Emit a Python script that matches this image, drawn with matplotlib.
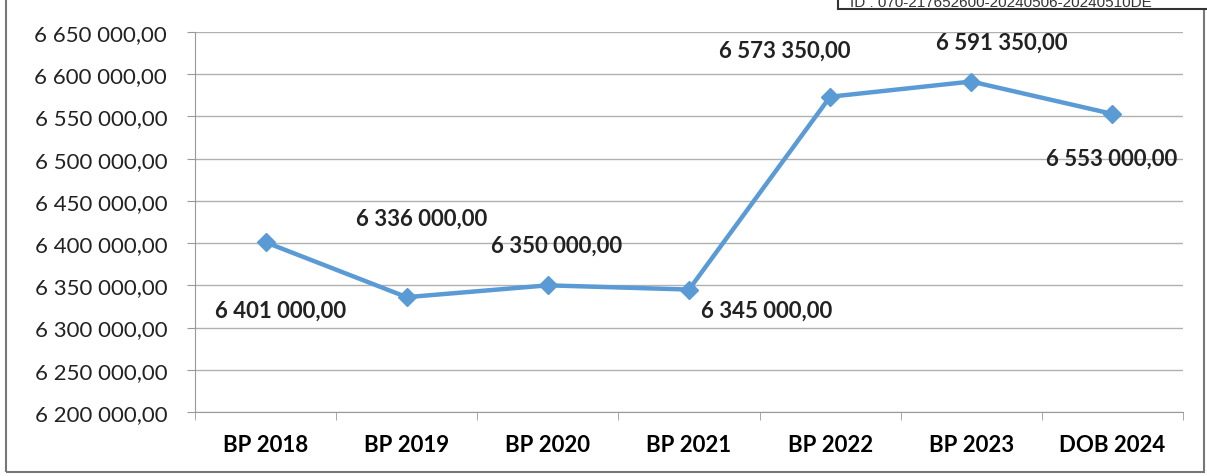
import matplotlib
matplotlib.use("Agg")
import matplotlib.pyplot as plt
from matplotlib.patches import Rectangle
from matplotlib.ticker import FuncFormatter, FixedLocator

categories = ["BP 2018", "BP 2019", "BP 2020", "BP 2021", "BP 2022", "BP 2023", "DOB 2024"]
values = [6401000, 6336000, 6350000, 6345000, 6573350, 6591350, 6553000]
label_offsets = [(15, -68), (15, 79), (9, 40), (78, -21), (-45, 47), (30, 39), (-1, -44)]  # pixels

def fmt(v, pos=None):
    s = f"{v:,.2f}"
    ip, dp = s.split(".")
    return ip.replace(",", " ") + "," + dp

plt.rcParams['font.family'] = ['Lato', 'DejaVu Sans']
fig = plt.figure(figsize=(12.07, 4.77), dpi=100)
ax = fig.add_axes([195/1207, 1-413/477, (1183-195)/1207, (413-33)/477])

x = list(range(len(categories)))
color = "#5B9BD5"
ax.plot(x, values, color=color, lw=3.2, marker="D", ms=9.5, mfc=color, mec=color, zorder=3)

for xi, v, (dx, dy) in zip(x, values, label_offsets):
    ax.annotate(fmt(v), (xi, v), xytext=(dx*0.72, dy*0.72), textcoords="offset points",
                ha="center", va="center", fontsize=16, fontweight="bold", color="#222222")

ax.set_xlim(-0.5, 6.5)
ax.set_ylim(6200000, 6650000)
ax.set_yticks(range(6200000, 6650001, 50000))
ax.yaxis.set_major_formatter(FuncFormatter(fmt))
ax.grid(axis="y", color="#b0b0b0", lw=1)
ax.set_axisbelow(True)
ax.set_xticks(x)
ax.set_xticklabels(categories, fontweight="bold", fontsize=16)
ax.xaxis.set_minor_locator(FixedLocator([i - 0.5 for i in range(8)]))
ax.tick_params(axis="x", which="major", length=0, pad=16)
ax.tick_params(axis="x", which="minor", length=6, color="#999999")
ax.tick_params(axis="y", length=6, color="#999999", labelsize=16, pad=14, labelcolor="#222222")
for s in ["top", "right"]:
    ax.spines[s].set_visible(False)
ax.spines["left"].set_color("#999999")
ax.spines["bottom"].set_color("#999999")

fig.patches.append(Rectangle((6/1207, 4/477), 1198/1207, 1.2, transform=fig.transFigure,
                             fill=False, ec="#777777", lw=1.5))
fig.patches.append(Rectangle((838/1207, 1-10/477), 400/1207, 0.1, transform=fig.transFigure,
                             fill=True, fc="white", ec="#333333", lw=1.5))
fig.text(850/1207, 1-3/477, "ID : 070-217652600-20240506-20240510DE", fontsize=11, va="center",
         ha="left", color="#333333", family="Liberation Sans")

fig.savefig("out.png", dpi=100)
